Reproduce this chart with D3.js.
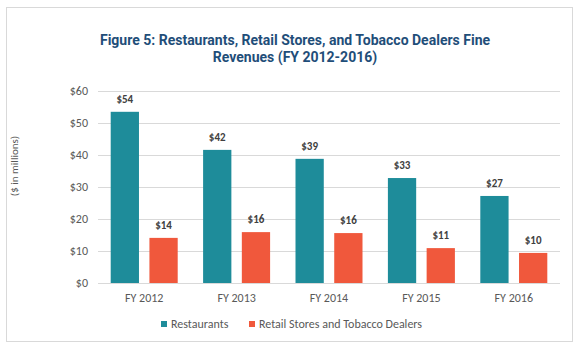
<!DOCTYPE html>
<html lang="en">
<head>
    <meta charset="UTF-8">
    <title>Figure 5</title>
    <script src="https://cdn.jsdelivr.net/npm/d3@7/dist/d3.min.js"></script>
    <style>
        body { margin: 0; background: #fff; }
        text { font-family: Carlito, Lato, "Liberation Sans", sans-serif; }
        .title { font-family: Roboto, "Liberation Sans", sans-serif; font-weight: bold; fill: #1f4e79; }
        .grid line { stroke: #d9d9d9; }
        .grid path { display: none; }
        .tick text { fill: #595959; font-size: 12px; }
    </style>
</head>
<body>
    <svg width=581 height=350></svg>
    <script>
        var years = ['FY 2012', 'FY 2013', 'FY 2014', 'FY 2015', 'FY 2016'],
            seriesNames = ['Restaurants', 'Retail Stores and Tobacco Dealers'],
            restaurants = [53.5, 41.6, 38.8, 32.8, 27.2],
            retail = [14.1, 15.9, 15.6, 10.9, 9.4],
            labels = [['$54', '$42', '$39', '$33', '$27'], ['$14', '$16', '$16', '$11', '$10']],
            yTicks = [0, 10, 20, 30, 40, 50, 60],
            colors = ['#1e8c9a', '#f0583c'];

        var svg = d3.select('svg'),
            margin = {top: 91, left: 98, right: 21, bottom: 67},
            chartWidth = 581 - margin.left - margin.right,
            chartHeight = 350 - margin.top - margin.bottom;

        // frame
        svg.append('rect')
            .attr('x', 6.5).attr('y', 7.5)
            .attr('width', 566).attr('height', 334)
            .attr('fill', 'none')
            .attr('stroke', '#d9d9d9');

        svg.append('text')
            .classed('title', true)
            .attr('text-anchor', 'middle')
            .attr('font-size', 14)
            .selectAll('tspan')
            .data(['Figure 5: Restaurants, Retail Stores, and Tobacco Dealers Fine', 'Revenues (FY 2012-2016)'])
            .enter().append('tspan')
            .attr('x', 295)
            .attr('y', function(d, i) { return 45 + i * 17; })
            .text(function(d) { return d; });

        var xScale = d3.scaleBand().domain(years).range([0, chartWidth]),
            yScale = d3.scaleLinear().domain([0, 60]).range([chartHeight, 0]),
            xSub = d3.scaleBand().domain([0, 1]).range([xScale.bandwidth() / 2 - 33.5, xScale.bandwidth() / 2 + 33.5]).paddingInner(0.27);

        var chartG = svg.append('g')
            .attr('transform', 'translate(' + [margin.left, margin.top] + ')');

        chartG.append('g')
            .classed('grid', true)
            .call(d3.axisLeft(yScale).tickValues(yTicks).tickSize(-chartWidth).tickPadding(10)
                .tickFormat(function(d) { return '$' + d; }))
            .selectAll('line').attr('shape-rendering', 'crispEdges');

        chartG.append('g')
            .classed('grid', true)
            .attr('transform', 'translate(0,' + chartHeight + ')')
            .call(d3.axisBottom(xScale).tickSize(0).tickPadding(10))
            .selectAll('.tick text').attr('font-size', 11.5);

        var data = [restaurants, retail];

        data.forEach(function(vals, s) {
            var g = chartG.append('g');
            g.selectAll('rect')
                .data(vals)
                .enter().append('rect')
                .attr('x', function(d, i) { return xScale(years[i]) + xSub(s); })
                .attr('width', xSub.bandwidth())
                .attr('y', function(d) { return yScale(d); })
                .attr('height', function(d) { return chartHeight - yScale(d); })
                .attr('fill', colors[s]);
            g.selectAll('text')
                .data(vals)
                .enter().append('text')
                .attr('x', function(d, i) { return xScale(years[i]) + xSub(s) + xSub.bandwidth() / 2; })
                .attr('y', function(d) { return yScale(d) - 9; })
                .attr('text-anchor', 'middle')
                .attr('font-size', 11)
                .attr('font-weight', 'bold')
                .attr('fill', '#404040')
                .text(function(d, i) { return labels[s][i]; });
        });

        svg.append('text')
            .attr('transform', 'translate(18,166) rotate(-90)')
            .attr('text-anchor', 'middle')
            .attr('font-size', 11)
            .attr('fill', '#595959')
            .text('($ in millions)');

        // legend
        var legendX = [161, 249];
        var legend = svg.append('g').selectAll('g')
            .data(seriesNames)
            .enter().append('g')
            .attr('transform', function(d, i) { return 'translate(' + [legendX[i], 321] + ')'; });
        legend.append('rect')
            .attr('width', 6).attr('height', 6)
            .attr('fill', function(d, i) { return colors[i]; });
        legend.append('text')
            .attr('x', 10).attr('y', 7)
            .attr('font-size', 12)
            .attr('fill', '#595959')
            .text(function(d) { return d; });
    </script>
</body>
</html>
